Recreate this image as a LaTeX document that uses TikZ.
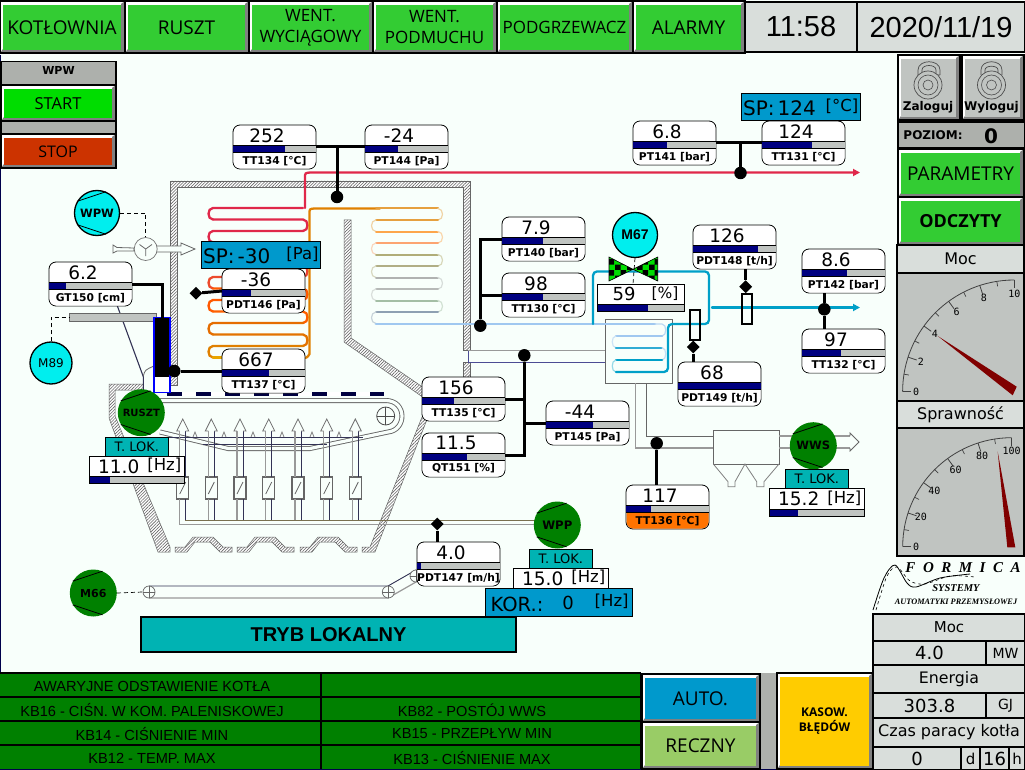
\documentclass[tikz,border=0pt]{standalone}
\usepackage{fontspec}
\usepackage{tikz}
\usetikzlibrary{shapes.geometric,arrows.meta,patterns,patterns.meta}
\setmainfont{DejaVu Sans}
\newfontfamily\opensans{Open Sans}
\newfontfamily\arialish{Liberation Sans}
\newfontfamily\serifish{Liberation Serif}
\newfontfamily\dejamono{DejaVu Sans Mono}
\newcommand{\px}[1]{\fontsize{#1}{#1}\selectfont}
\definecolor{screenbg}{HTML}{F8FFFB}
\definecolor{btngreen}{HTML}{33CC33}
\definecolor{btnshade}{HTML}{808080}
\definecolor{startgreen}{HTML}{00DD00}
\definecolor{stopred}{HTML}{CC3300}
\definecolor{recznygreen}{HTML}{99CC66}
\definecolor{kasyellow}{HTML}{FFCC00}
\definecolor{panelgrey}{HTML}{ADB0AC}
\definecolor{dialgrey}{HTML}{C0C4C1}
\definecolor{cellgrey}{HTML}{D9DEDB}
\definecolor{barnavy}{HTML}{000080}
\definecolor{spblue}{HTML}{0099CC}
\definecolor{lokteal}{HTML}{00B3B3}
\definecolor{motorgreen}{HTML}{008000}
\definecolor{motorcyan}{HTML}{00EEEE}
\definecolor{needlered}{HTML}{800000}
\definecolor{steamred}{HTML}{E0284A}
\definecolor{hotorange}{HTML}{E08000}
\definecolor{palblue}{HTML}{A0C8F0}
\definecolor{waterblue}{HTML}{00A0C8}
\definecolor{ductdark}{HTML}{333355}
\definecolor{ductgrey}{HTML}{999999}
\definecolor{ductbrown}{HTML}{7A7050}
\tikzset{
  panelline/.style={draw=black,line width=1.5},
  btnface/.style={inner sep=0,outer sep=0,align=center},
  cellnode/.style={draw=black,line width=1.5,fill=cellgrey,inner sep=0,outer sep=0},
  gaugebox/.style={draw=black,line width=.8,fill=white,rounded corners=7,minimum width=83,minimum height=44,inner sep=0,outer sep=0},
  gaugeval/.style={inner sep=0,font=\px{18.5}},
  gaugetag/.style={inner sep=0,font=\px{10.7}\bfseries},
  sig/.style={draw=black,line width=3},
  sigdot/.style={circle,fill=black,inner sep=0,minimum size=12.5},
  sigmark/.style={diamond,fill=black,inner sep=0,minimum size=13},
  spbox/.style={draw=black,line width=.8,fill=spblue,inner sep=0,outer sep=0},
  lokbox/.style={draw=black,line width=.8,inner sep=0,outer sep=0},
  motorg/.style={circle,fill=motorgreen,inner sep=0,minimum size=47},
  motorc/.style={circle,fill=motorcyan,draw=black,line width=1.3,inner sep=0},
  chord/.style={draw=black,line width=.8},
  wall/.style={draw=black!60,line width=.5,preaction={fill=white},pattern={Lines[angle=45,distance=2.2pt,line width=.6pt]},pattern color=black!60},
  coil/.style={line width=2.3,line cap=round},
  dashline/.style={draw=black,line width=.7,dash pattern=on 4pt off 3pt},
  damper/.style={draw=black!60,line width=1.2,fill=screenbg,minimum width=12,minimum height=22,inner sep=0,outer sep=0},
  flowbox/.style={draw=black,line width=2.4,minimum width=10,minimum height=30,inner sep=0,outer sep=0},
  almrow/.style={inner sep=0,font=\arialish\px{14.6},text=black},
  valve/.style={draw=black,line width=.6,preaction={fill=startgreen},pattern=checkerboard,pattern color=black},
}
\newcommand{\hmibtn}[8]{
  \fill[white] (#2,#3) rectangle (#4,#5);
  \fill[btnshade] (#4,#3) -- (#4,#5) -- (#2,#5) -- (#2+3,#5-4) -- (#4-4,#5-4) -- (#4-4,#3+3) -- cycle;
  \node[btnface,fill=#6,minimum width={#4-#2-7},minimum height={#5-#3-7},font=\opensans #7] (#1) at ({(#2+#4)/2-.5},{(#3+#5)/2+.3}) {#8};
  \draw[panelline] (#2,#3) rectangle (#4,#5);
}
\newcommand{\cellbox}[7]{
  \node[cellnode,minimum width={#4-#2},minimum height={#5-#3},font=#6] (#1) at ({(#2+#4)/2},{(#3+#5)/2}) {#7};
}
\newcommand{\gauge}[7][white]{
  \node[gaugebox] (#2) at (#3+41.5,#4+22) {};
  \fill[#1,rounded corners=0] (#3+.5,#4+27) -- (#3+82.5,#4+27) {[rounded corners=7] -- (#3+82.5,#4+43.5) -- (#3+.5,#4+43.5)} -- cycle;
  \fill[dialgrey] (#3,#4+20) rectangle (#3+83,#4+27);
  \fill[barnavy] (#3,#4+20) rectangle (#3+83*#7,#4+27);
  \draw[black,line width=.5] (#3,#4+20) -- (#3+83,#4+20) (#3,#4+27) -- (#3+83,#4+27);
  \node[gaugeval] (#2-val) at (#3+34,#4+10.3) {#5};
  \node[gaugetag] (#2-tag) at (#3+41.5,#4+35.7) {#6};
}
\newcommand{\lokgroup}[5]{
  \node[lokbox,fill=lokteal,minimum width=63,minimum height=19,font=\px{13}] (#1-lok) at (#2+47.5,#3-9.5) {T. LOK.};
  \node[lokbox,fill=white,minimum width=95,minimum height=#4] (#1) at (#2+47.5,#3+#4/2) {};
  \node[inner sep=0,font=\px{18.5}] (#1-val) at (#2+29.5,#3+10.5) {#5};
  \node[inner sep=0,font=\px{16.5}] (#1-unit) at (#2+75,#3+9.5) {[Hz]};
}
\newcommand{\lokbar}[3]{
  \fill[dialgrey] (#1,#2-7) rectangle (#1+95,#2);
  \fill[barnavy] (#1,#2-7) rectangle (#1+95*#3,#2);
  \draw[black,line width=.8] (#1,#2-7) rectangle (#1+95,#2);
}
\newcommand{\motor}[6][motorg]{
  \node[#1,#5] (#2) at (#3,#4) {#6};
}
\newcommand{\chords}[1]{
  \draw[chord] (#1.150) -- (#1.67);
  \draw[chord] (#1.210) -- (#1.293);
}
\newcommand{\dial}[4]{
  \draw[black!75,line width=.8] (#1-#3,#2) -- (#1-#3+8,#2);
  \draw[black!75,line width=.8] (#1,#2-#3) -- (#1,#2-#3+8);
  \draw[black!75,line width=.8] (#1-#3,#2) .. controls (#1-#3,#2-.5523*#3) and (#1-.5523*#3,#2-#3) .. (#1,#2-#3);
  \foreach \v in {1,3,5,7,9}{
    \pgfmathsetmacro{\a}{180-9*\v}
    \draw[black!75,line width=.7] ({#1+#3*cos(\a)},{#2-#3*sin(\a)}) -- ({#1+(#3-5)*cos(\a)},{#2-(#3-5)*sin(\a)});
  }
  \foreach \i in {0,...,5}{
    \pgfmathsetmacro{\a}{180-18*\i}
    \pgfmathtruncatemacro{\lab}{\i*#4}
    \ifnum\i>0\ifnum\i<5
      \draw[black!75,line width=.8] ({#1+#3*cos(\a)},{#2-#3*sin(\a)}) -- ({#1+(#3-9)*cos(\a)},{#2-(#3-9)*sin(\a)});
    \fi\fi
    \node[inner sep=0,font=\dejamono\px{10}] (dial#4-\i) at ({#1+(#3-13.5)*cos(\a)},{#2-(#3-13.5)*sin(\a)}) {\lab};
  }
}
\begin{document}
\begin{tikzpicture}[x=1pt,y=-1pt]
  \useasboundingbox (0,0) rectangle (1025,770);
  \fill[screenbg] (0,0) rectangle (1025,770);
  \fill[black!70!blue] (0,55) rectangle (1,770);
  \fill[black!70!blue] (0,769) rectangle (1025,770);

  \hmibtn{kotlownia}{0}{1}{125}{53}{btngreen}{\px{19}}{KOTŁOWNIA}
  \hmibtn{ruszt}{125}{1}{249}{53}{btngreen}{\px{19}}{RUSZT}
  \hmibtn{wentwyc}{249}{1}{373}{53}{btngreen}{\px{17}}{WENT.\\[4pt]WYCIĄGOWY}
  \hmibtn{wentpod}{373}{1}{497}{53}{btngreen}{\px{17}}{WENT.\\[4pt]PODMUCHU}
  \hmibtn{podgrz}{497}{1}{633}{53}{btngreen}{\px{17}}{PODGRZEWACZ}
  \hmibtn{alarmy}{633}{1}{745}{53}{btngreen}{\px{19}}{ALARMY}
  \cellbox{clock}{745}{2}{857}{52}{\arialish\px{29}}{11:58}
  \cellbox{date}{857}{2}{1025}{52}{\arialish\px{29}}{2020/11/19}

  \node[panelline,fill=panelgrey,minimum width=115,minimum height=24,inner sep=0,font=\px{11}\bfseries,anchor=north] (wpwhead) at (58.5,61) {\raisebox{6pt}{WPW}};
  \hmibtn{startbtn}{1}{85}{116}{121}{startgreen}{\px{16.5}}{START}
  \node[panelline,fill=panelgrey,minimum width=115,minimum height=13,inner sep=0] (wpwgap) at (58.5,127.5) {};
  \hmibtn{stopbtn}{1}{134}{116}{168}{stopred}{\px{16}}{STOP}

  \hmibtn{zaloguj}{898}{55}{960}{120}{dialgrey}{\px{12}}{}
  \hmibtn{wyloguj}{962}{55}{1024}{120}{dialgrey}{\px{12}}{}
  \draw[black!70,line width=.7] (918,76) -- (918,70) .. controls (918,59) and (940,59) .. (940,70) -- (940,75);
  \draw[black!70,line width=.7] (922,75) -- (922,70) .. controls (922,64) and (936,64) .. (936,70) -- (936,75) -- (940,75);
  \draw[black!70,line width=.7] (981,75) -- (981,70) .. controls (981,59) and (1002,59) .. (1002,70) -- (1002,75);
  \draw[black!70,line width=.7] (985,75) -- (985,70) .. controls (985,65) and (998,65) .. (998,70) -- (998,75);
  \foreach \lx in {928,991.5}{
    \draw[black!70,line width=.7,fill=dialgrey] (\lx,85) circle[radius=14];
    \draw[black!70,line width=.6] (\lx,85) circle[radius=10];
    \draw[black!70,line width=.6] (\lx,85) circle[radius=5];
  }
  \node[inner sep=0,font=\px{12}\bfseries] (zaloguj-tag) at (928,107) {Zaloguj};
  \node[inner sep=0,font=\px{12}\bfseries] (wyloguj-tag) at (991.5,107) {Wyloguj};
  \node[panelline,fill=panelgrey,minimum width=127,minimum height=26,inner sep=0] (poziom) at (961.5,135) {};
  \node[inner sep=0,font=\px{12}\bfseries] (poziom-tag) at (933,135) {POZIOM:};
  \node[inner sep=0,font=\px{20}\bfseries] (poziom-val) at (991,136) {0};
  \hmibtn{parametry}{898}{149}{1024}{197}{btngreen}{\px{19}}{PARAMETRY}
  \hmibtn{odczyty}{898}{197}{1024}{245}{btngreen}{\px{18}\bfseries}{ODCZYTY}
  \cellbox{moclab}{897}{245}{1024}{273}{\px{16}}{Moc}
  \cellbox{mocdial}{897}{273}{1024}{401}{\px{10}}{}
  \cellbox{sprlab}{897}{401}{1024}{428}{\px{16}}{Sprawność}
  \cellbox{sprdial}{897}{428}{1024}{556}{\px{10}}{}
  \fill[dialgrey] (898,274) rectangle (1023,400);
  \fill[dialgrey] (898,429) rectangle (1023,555);
  \dial{1014.3}{391.7}{111.7}{2}
  \dial{1011.7}{546.7}{109}{20}
  \fill[needlered] (937.7,336) -- (1016.7,386.7) -- (1012.7,395.3) -- cycle;
  \fill[needlered] (997.7,451.7) -- (1015.3,547.3) -- (1007.3,547.3) -- cycle;

  \draw[black,line width=.8] plot[smooth] coordinates {(873,610) (884,578) (895,565) (907,583) (916,587) (940,578) (970,574)};
  \draw[black,line width=.6,dashed] plot[smooth] coordinates {(876,610) (887,576) (897,567) (910,581) (925,584) (950,576) (975,577)};
  \node[inner sep=0,font=\serifish\px{15}\bfseries\itshape] (formica) at (963,568) {F\,\,\,O\,\,\,R\,\,\,M\,\,\,I\,\,\,C\,\,\,A};
  \node[inner sep=0,font=\serifish\px{10.5}\bfseries\itshape] (systemy) at (956,588) {SYSTEMY};
  \node[inner sep=0,font=\serifish\px{8.3}\bfseries\itshape] (automatyki) at (956,602) {AUTOMATYKI PRZEMYSŁOWEJ};
  \cellbox{mocname}{873}{614}{1025}{641}{\px{15}}{Moc}
  \cellbox{mocval}{873}{641}{986}{665}{\px{18}}{4.0}
  \cellbox{mocunit}{986}{641}{1025}{665}{\px{14}}{MW}
  \cellbox{enname}{873}{665}{1025}{693}{\px{15.8}}{Energia}
  \cellbox{enval}{873}{693}{986}{718}{\px{18}}{303.8}
  \cellbox{enunit}{986}{693}{1025}{718}{\px{14}}{GJ}
  \cellbox{czasname}{873}{718}{1025}{747}{\px{16}}{Czas paracy kotła}
  \cellbox{czasd}{873}{747}{961}{770}{\px{18}}{0}
  \cellbox{czasdu}{961}{747}{980}{770}{\px{15}}{d}
  \cellbox{czash}{980}{747}{1009}{770}{\px{18}}{16}
  \cellbox{czashu}{1009}{747}{1025}{770}{\px{15}}{h}

  \fill[motorgreen] (0,673) rectangle (641,769);
  \draw[black,line width=1.5] (0,673) -- (641,673) (321,673) -- (321,769) (641,673) -- (641,769);
  \foreach \ry in {697,721,745}{
    \draw[black,line width=1.5] (0,\ry) -- (641,\ry);
  }
  \node[almrow] (alm1) at (152,686) {AWARYJNE ODSTAWIENIE KOTŁA};
  \node[almrow] (alm2) at (152,710) {KB16 - CIŚN. W KOM. PALENISKOWEJ};
  \node[almrow] (alm3) at (152,734) {KB14 - CIŚNIENIE MIN};
  \node[almrow] (alm4) at (152,758) {KB12 - TEMP. MAX};
  \node[almrow] (alm5) at (472,710) {KB82 - POSTÓJ WWS};
  \node[almrow] (alm6) at (472,734) {KB15 - PRZEPŁYW MIN};
  \node[almrow] (alm7) at (472,758) {KB13 - CIŚNIENIE MAX};
  \hmibtn{autobtn}{642}{674}{760}{722}{spblue}{\px{19}}{AUTO.}
  \hmibtn{recznybtn}{642}{722}{760}{769}{recznygreen}{\px{19}}{RECZNY}
  \fill[panelgrey] (761,673) rectangle (777,769);
  \hmibtn{kasbtn}{777}{673}{873}{769}{kasyellow}{\px{12}}{\bfseries KASOW.\\[3pt]\bfseries BŁĘDÓW}

  \node[panelline,fill=lokteal,minimum width=375,minimum height=35,inner sep=0,font=\arialish\px{20}\bfseries] (tryb) at (328.5,634.5) {TRYB LOKALNY};

  \draw[wall] (170,385) -- (170,181) -- (470,181) -- (470,350) -- (463,350) -- (463,187) -- (177,187) -- (177,385) -- cycle;
  \draw[wall] (463,362) -- (470,362) -- (470,378) -- (463,378) -- cycle;
  \draw[wall] (344,220) -- (351,220) -- (351,338) -- (424,388) -- (424,398) -- (344,342) -- cycle;
  \draw[wall] (109,384) -- (143,384) -- (143,390) -- (115,390) -- (115,416) -- (170,547) -- (170,552) -- (158,552) -- (109,418) -- cycle;
  \draw[wall] (422,417) -- (428,417) -- (375,552) -- (362,552) -- (362,547) -- (370,547) -- cycle;
  \foreach \hx in {0,62,125}{
    \draw[wall,xshift=\hx] (175,547) -- (185,547) -- (193,537) -- (213,537) -- (223,547) -- (232,547) -- (232,552) -- (220,552) -- (210,542) -- (195,542) -- (187,552) -- (175,552) -- cycle;
  }

  \foreach \ya/\xa/\xb/\xc/\cc in {
    208/303/213/207/steamred,
    219.5/213/303/309/steamred,
    231/303/213/207/steamred,
    242.5/213/303/309/steamred,
    254/303/213/207/steamred,
    265.5/213/303/309/steamred!70!orange,
    277/303/213/207/steamred!60!orange,
    288.5/213/303/309/orange!70!red,
    300/303/213/207/orange!70!red,
    311.5/213/303/309/orange!75!red,
    323/303/213/207/hotorange!85!red,
    334.5/213/303/309/hotorange!90!red,
    346/303/213/207/hotorange}{
    \draw[coil,\cc] (\xa,\ya) -- (\xb,\ya) .. controls (\xc,\ya) and (\xc,\ya+11.5) .. (\xb,\ya+11.5);
  }
  \draw[coil,hotorange!70!yellow] (213,357.5) -- (303,357.5);
  \draw[coil,steamred,-{Triangle[length=7,width=7]}] (305,208) -- (305,178) .. controls (305,173) .. (310,172.5) -- (860,172.5);
  \draw[coil,hotorange] (300,358) .. controls (307,358) .. (309.5,354) -- (309.5,214) .. controls (309.5,209) .. (314,208.5) -- (380,208.5);
  \foreach \ya/\xa/\xb/\xc/\cc in {
    208.5/376/438/444/hotorange!75!screenbg,
    220/438/376/370/hotorange!75!screenbg,
    231.5/376/438/444/orange!70!screenbg,
    243/438/376/370/red!30!orange!55!screenbg,
    254.5/376/438/444/olive!45!gray!70!screenbg,
    266/438/376/370/olive!35!gray!70!screenbg,
    277.5/376/438/444/gray!60!screenbg,
    289/438/376/370/gray!55!screenbg,
    300.5/376/438/444/green!15!gray!60!screenbg,
    312/438/376/370/gray!55!palblue}{
    \draw[coil,line width=2,\cc] (\xa,\ya) -- (\xb,\ya);
    \draw[coil,line width=1.2,\cc!45!screenbg] (\xb,\ya) .. controls (\xc,\ya) and (\xc,\ya+11.5) .. (\xb,\ya+11.5);
  }

  \draw[ductgrey,line width=1.2] (468,350.7) -- (605,350.7);
  \draw[blue!40!black!70,line width=.8] (468,350.7) -- (468,362.7) -- (605,362.7);
  \node[draw=black!60,line width=.8,fill=screenbg,minimum width=67,minimum height=64,inner sep=0,outer sep=0] (exchanger) at (639,351.3) {};
  \draw[coil,line width=2.8,palblue] (376,324) -- (655,324);
  \draw[coil,palblue!70!screenbg,line width=1.2] (655,324) -- (662,324) .. controls (667,324) and (667,336) .. (662,336);
  \draw[coil,palblue] (662,336) -- (616,336);
  \draw[coil,line width=1.2,palblue!50!screenbg] (616,336) .. controls (611,336) and (611,347.7) .. (616,347.7);
  \draw[coil,waterblue!70!palblue] (616,347.7) -- (662,347.7);
  \draw[coil,line width=1.2,palblue!60!screenbg] (662,347.7) .. controls (667,347.7) and (667,360) .. (662,360);
  \draw[coil,waterblue] (662,360) -- (616,360);
  \draw[coil,line width=1.2,waterblue!40!screenbg] (616,360) .. controls (611,360) and (611,372) .. (616,372);
  \draw[coil,waterblue,rounded corners=4] (616,372) -- (668,372) -- (668,324) -- (709,324) -- (709,271.5) -- (593,271.5) -- (593,324);
  \draw[coil,waterblue,-{Triangle[length=7,width=7]}] (712,307.5) -- (860,307.5);

  \draw[ductgrey,line width=1.3] (635.7,383) -- (635.7,448) -- (713,448);
  \draw[black!60,line width=1] (646.7,383) -- (646.7,436) -- (713,436);
  \draw[black!60,line width=.8,fill=screenbg] (713,430) rectangle (779,464);
  \draw[black!50,line width=.8] (713.3,464) -- (728,481.7) -- (728,486.7) -- (735,486.7) -- (735,481.7) -- (745,464) -- (756.7,481.7) -- (756.7,486.7) -- (764,486.7) -- (764,481.7) -- (779,464);
  \draw[ductgrey,line width=1.2] (779,448) -- (850,448);
  \draw[ductgrey,line width=1.2] (779,436) -- (850,436);
  \draw[black!60,line width=.8,fill=screenbg] (850,436) -- (850,433) -- (859,442) -- (850,451) -- (850,448);

  \draw[white,line width=4.5] (167,393.8) -- (384,393.8);
  \draw[black!50!blue!50!black,line width=4.5,dash pattern=on 15pt off 14pt] (167,393.8) -- (384,393.8);
  \draw[draw=black!60,line width=.9,double=screenbg,double distance=3.2] (150,400.5) -- (385.7,400.5) .. controls (407,400.5) and (407,430) .. (388,432) -- (310,448.5) -- (228,448.5) -- (160,432);
  \draw[ductdark,line width=.8] (160,437) -- (363,437);
  \draw[ductdark,line width=.8] (203,444) -- (327,444);
  \foreach \tx in {195,224,253,282,312,339}{
    \draw[black!50,line width=.8] (\tx-2,437) -- (\tx,432) -- (\tx+2,437);
  }
  \draw[black!70,line width=.8,fill=screenbg] (385.7,416) circle[radius=9];
  \draw[black!70,line width=.7] (376.7,416) -- (394.7,416) (385.7,407) -- (385.7,425);

  \foreach \n/\ax in {1/182.7,2/211.3,3/240,4/268.7,5/298,6/326.7,7/355.3}{
    \node[damper] (dmp\n) at (\ax,488) {};
    \draw[black!60,line width=.8] (\ax-3,494) -- (\ax+3,482);
    \draw[ductgrey,line width=1.3] (\ax-3,431) -- (\ax-3,477) (\ax-3,499) -- (\ax-3,520.5);
    \draw[ductdark,line width=.8] (\ax+3,431) -- (\ax+3,477) (\ax+3,499) -- (\ax+3,520.5);
    \draw[black!55,line width=.8,fill=screenbg] (\ax-3,431) -- (\ax-6,431) -- (\ax,419) -- (\ax+6,431) -- (\ax+3,431);
  }
  \draw[ductbrown,line width=.9] (185,520.7) -- (540,520.7);
  \draw[ductgrey,line width=1.3] (179.7,499) -- (179.7,524.7) -- (540,524.7);

  \draw[ductdark,line width=.9] (149,586) -- (388,586) -- (416,570);
  \draw[ductgrey,line width=1.2] (149,598) -- (388,598) -- (416,582);
  \foreach \wn/\wx/\wy in {1/149/592,2/388.3/592,3/416/576}{
    \node[circle,draw=black!60,line width=.7,fill=screenbg,minimum size=12,inner sep=0] (wheel\wn) at (\wx,\wy) {};
    \draw[black!60,line width=.6] (\wx-6,\wy) -- (\wx+6,\wy) (\wx,\wy-6) -- (\wx,\wy+6);
  }

  \draw[ductdark,line width=1.1] (117,305) -- (143.3,376.7) -- (143.3,391);
  \draw[black!60,line width=.8] (143.3,376) .. controls (145,370) .. (154,366);
  \node[draw=black!60,line width=.6,fill=dialgrey,minimum width=87,minimum height=8,inner sep=0,outer sep=0] (hopbar) at (112.6,317) {};
  \node[draw=blue,line width=1.6,fill=white,minimum width=16.5,minimum height=75,inner sep=0,outer sep=0] (levelbar) at (162,355) {};
  \fill[black] (155,318) rectangle (169,376.7);

  \draw[black!60,line width=.8,fill=screenbg] (113,245) -- (117,247.5) -- (134,248) -- (134,251) -- (117,251) -- (113,253) -- cycle;
  \draw[black!60,line width=.8,fill=screenbg] (157,246) -- (181,246) -- (181,243) -- (195,249) -- (181,255) -- (181,252) -- (157,252);
  \node[circle,draw=black!55,line width=.7,fill=screenbg,minimum size=23,inner sep=0] (fan) at (145.7,249) {};
  \draw[black!60,line width=.8] (145.7,249) -- (145.7,256) (145.7,249) -- (139.5,244.5) (145.7,249) -- (152,244.5);

  \gauge{TT134}{233}{125}{252}{TT134 [°C]}{.625}
  \gauge{PT144}{365}{125}{-24}{PT144 [Pa]}{.4}
  \gauge{PT141}{633}{121}{6.8}{PT141 [bar]}{.415}
  \gauge{TT131}{762}{121}{124}{TT131 [°C]}{.6}
  \gauge{PDT148}{693}{225}{126}{PDT148 [t/h]}{.78}
  \gauge{PT142}{802}{249}{8.6}{PT142 [bar]}{.54}
  \gauge{TT132}{802}{329}{97}{TT132 [°C]}{.475}
  \gauge{PT140}{502}{217}{7.9}{PT140 [bar]}{.49}
  \gauge{TT130}{502}{273}{98}{TT130 [°C]}{.49}
  \gauge{TT135}{422}{377}{156}{TT135 [°C]}{.39}
  \gauge{PT145}{546}{401}{-44}{PT145 [Pa]}{.57}
  \gauge{QT151}{422}{433}{11.5}{QT151 [\%]}{.54}
  \gauge{PDT149}{678}{362}{68}{PDT149 [t/h]}{1}
  \gauge[orange!90!red]{TT136}{626}{485}{117}{TT136 [°C]}{.3}
  \gauge{PDT147}{417}{542}{4.0}{PDT147 [m/h]}{.045}
  \gauge{GT150}{49}{262}{6.2}{GT150 [cm]}{.2}
  \gauge{PDT146}{222}{269}{-36}{PDT146 [Pa]}{.355}
  \gauge{TT137}{222}{349}{667}{TT137 [°C]}{.57}

  \node[spbox,minimum width=119,minimum height=27.4] (sp146) at (261.2,255) {};
  \node[anchor=west,inner sep=0,font=\px{20}] (sp146-val) at (203,256.5) {SP:\hspace{3pt}-30};
  \node[inner sep=0,font=\px{16.5}] (sp146-unit) at (302.5,254) {[Pa]};
  \node[spbox,minimum width=119.4,minimum height=27.4] (sp131) at (801,107) {};
  \node[anchor=west,inner sep=0,font=\px{20}] (sp131-val) at (743,108.5) {SP:\hspace{3pt}124};
  \node[inner sep=0,font=\px{16.5}] (sp131-unit) at (842,106) {[°C]};

  \motor[motorc]{WPW}{97}{213}{minimum size=45,font=\px{11.5}\bfseries}{WPW}
  \chords{WPW}
  \motor[motorc]{M89}{51}{363}{minimum size=42,font=\px{12}}{M89}
  \motor[motorc]{M67}{635}{235}{minimum size=45,font=\arialish\px{14}\bfseries}{M67}
  \motor{RUSZT}{141.3}{412.7}{font=\px{10}\bfseries}{RUSZT}
  \chords{RUSZT}
  \motor{WWS}{813.3}{445.7}{font=\px{11.5}\bfseries}{WWS}
  \chords{WWS}
  \motor{WPP}{557.3}{525}{font=\px{11.7}\bfseries}{WPP}
  \chords{WPP}
  \motor{M66}{93.3}{593}{font=\px{11}\bfseries}{M66}
  \chords{M66}

  \coordinate (fantop) at (fan.north);
  \draw[dashline] (WPW.east) -| (fantop);
  \draw[dashline] (M89.north) |- (hopbar.west);
  \draw[dashline] (M66.east) -- (wheel1.west);
  \draw[dashline] (M67.south) -- (633,284);

  \draw[valve] (609,257) -- (633,269.3) -- (609,281) -- cycle;
  \draw[valve] (657.7,257) -- (633,269.3) -- (657.7,281) -- cycle;

  \node[lokbox,fill=white,minimum width=87,minimum height=27.4] (v67) at (640.8,298) {};
  \fill[dialgrey] (597.3,304.3) rectangle (684.3,311.7);
  \fill[barnavy] (597.3,304.3) rectangle (648.3,311.7);
  \draw[black,line width=.8] (597.3,304.3) rectangle (684.3,311.7);
  \node[inner sep=0,font=\px{18}] (v67-val) at (624,294) {59};
  \node[inner sep=0,font=\px{15.5}] (v67-unit) at (665,293.5) {[\%]};

  \lokgroup{lok11}{89.3}{456}{27.4}{11.0}
  \lokbar{89.3}{483.4}{.22}
  \lokgroup{lok15}{769.3}{488.7}{28}{15.2}
  \lokbar{769.3}{516.7}{.3}
  \lokgroup{lok1}{513.3}{568.3}{20.4}{15.0}
  \node[spbox,minimum width=147,minimum height=28] (kor) at (558.8,602.7) {};
  \node[inner sep=0,font=\px{19.5}] (kor-tag) at (517,604.5) {KOR.:};
  \node[inner sep=0,font=\px{18}] (kor-val) at (568,603) {0};
  \node[inner sep=0,font=\px{16.5}] (kor-unit) at (611.7,601) {[Hz]};

  \node[sigdot] (dot134) at (337,197) {};
  \node[sigdot] (dot131) at (740.5,173) {};
  \node[sigdot] (dot140) at (480.3,325.7) {};
  \node[sigdot] (dot135) at (524.3,355.3) {};
  \node[sigdot] (dot142) at (824.3,309.3) {};
  \node[sigdot] (dot136) at (656.7,443.3) {};
  \node[sigdot] (dot137) at (174.3,371) {};
  \node[sigmark] (mark146) at (196,293.3) {};
  \node[sigmark] (mark148) at (745.7,286.7) {};
  \node[sigmark] (mark149) at (693.3,347) {};
  \node[sigmark] (mark147) at (437.3,524) {};
  \node[flowbox] (flow148) at (747,308.7) {};
  \node[flowbox] (flow149) at (695,324.7) {};

  \draw[sig] (TT134.east) -- (PT144.west);
  \draw[sig] (dot134) -- (dot134 |- TT134.east);
  \draw[sig] (PT141.east) -- (TT131.west);
  \draw[sig] (dot131) -- (dot131 |- PT141.east);
  \draw[sig] (dot140) |- (PT140.west);
  \draw[sig] (dot140 |- TT130.west) -- (TT130.west);
  \draw[sig] (dot135) |- (QT151.east);
  \draw[sig] (dot135 |- TT135.east) -- (TT135.east);
  \draw[sig] (dot135 |- PT145.west) -- (PT145.west);
  \draw[sig] (dot142) -- (dot142 |- PT142.south);
  \draw[sig] (dot142) -- (dot142 |- TT132.north);
  \draw[sig] (dot136) -- (dot136 |- TT136.north);
  \draw[sig] (dot137) -- (TT137.west);
  \draw[sig] (mark146) -- (PDT146.west);
  \draw[sig] (mark148) -- (mark148 |- PDT148.south);
  \draw[sig] (mark149) -- (mark149 |- PDT149.north);
  \draw[sig] (mark147) -- (mark147 |- PDT147.north);
  \draw[sig] (GT150.east) -| (levelbar.north);
\end{tikzpicture}
\end{document}
